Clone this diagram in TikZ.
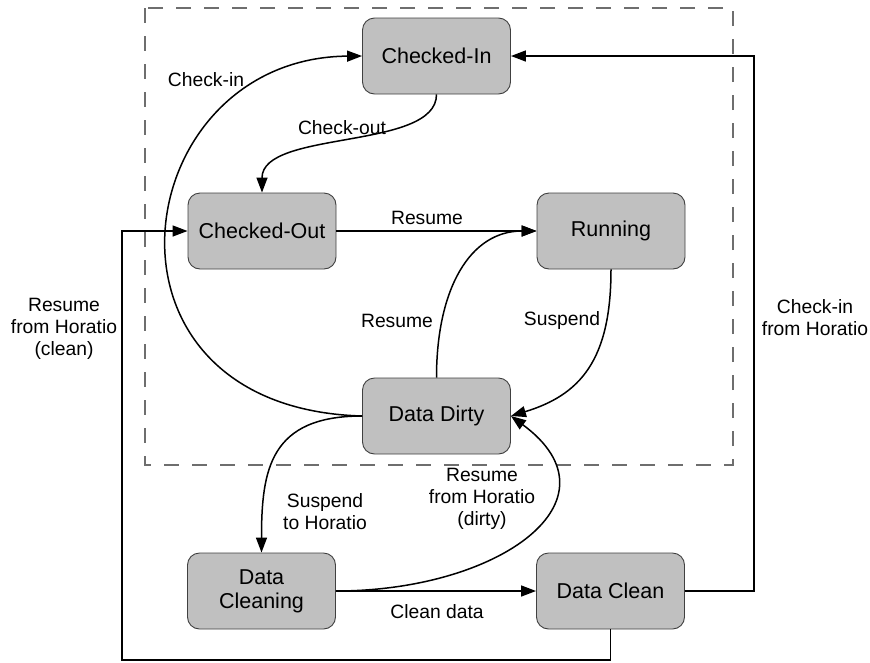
\documentclass[tikz,border=0pt]{standalone}
\usepackage{fontspec}
\setmainfont{Liberation Sans}
\usetikzlibrary{arrows.meta}
\definecolor{stategray}{HTML}{C0C0C0}
\definecolor{framegray}{HTML}{6E6E6E}
\begin{document}
\begin{tikzpicture}[x=1pt,y=-1pt,
  state/.style={draw=black!75, line width=0.9pt, fill=stategray, rounded corners=12pt,
    minimum width=148pt, minimum height=76pt, inner sep=0pt, align=center,
    font=\fontsize{21.5}{24}\selectfont},
  lbl/.style={inner sep=0pt, align=center, font=\fontsize{19.3}{22}\selectfont},
  link/.style={line width=1.5pt, -{Triangle[length=15pt,width=11pt]}},
  frame/.style={draw=framegray, line width=1.1pt, dash pattern=on 15pt off 13pt}]

\useasboundingbox (0,0) rectangle (870,662);

% boundary of the local states
\draw[frame] (145,8) rectangle (733,465);

% states
\node[state] (ci)  at (436.5,56)  {Checked-In};
\node[state] (co)  at (262,231)   {Checked-Out};
\node[state] (run) at (611,231)   {Running};
\node[state] (dd)  at (436.5,416) {Data Dirty};
\node[state] (dcl) at (261.5,591) {Data\\Cleaning};
\node[state] (dcn) at (610.5,591) {Data Clean};

% corner of the long return path
\coordinate (lb) at (122,660);

% transitions
\draw[link] (ci.south) .. controls +(0,56) and +(0,-63) .. (co.north);
\draw[link] (co.east) -- (run.west);
\draw[link] (run.south) .. controls +(0,91) and +(69,-21) .. (dd.east);
\draw[link] (dd.north) .. controls +(0,-88) and +(-67,0) .. (run.west);
\draw[link] (dd.west) .. controls +(-285,-8) and +(-236,2) .. (ci.west);
\draw[link] (dd.west) .. controls +(-92,0) and +(0,-83) .. (dcl.north);
\draw[link] (dcl.east) .. controls +(164,0) and +(114,84) .. (dd.east);
\draw[link] (dcl.east) -- (dcn.west);
\draw[link] (dcn.east) -- ++(69,0) |- (ci.east);
\draw[link] (dcn.south) |- (lb) |- (co.west);

% transition labels
\node[lbl] (l1)  at (206,80)  {Check-in};
\node[lbl] (l2)  at (342,128) {Check-out};
\node[lbl] (l3)  at (427,218) {Resume};
\node[lbl] (l4)  at (397,321) {Resume};
\node[lbl] (l5)  at (562,321) {Suspend};
\node[lbl] (l6)  at (64,329)  {Resume\\from Horatio\\(clean)};
\node[lbl] (l7)  at (815,318) {Check-in\\from Horatio};
\node[lbl] (l8)  at (325,512) {Suspend\\to Horatio};
\node[lbl] (l9)  at (482,499) {Resume\\from Horatio\\(dirty)};
\node[lbl] (l10) at (437,612) {Clean data};
\end{tikzpicture}
\end{document}
